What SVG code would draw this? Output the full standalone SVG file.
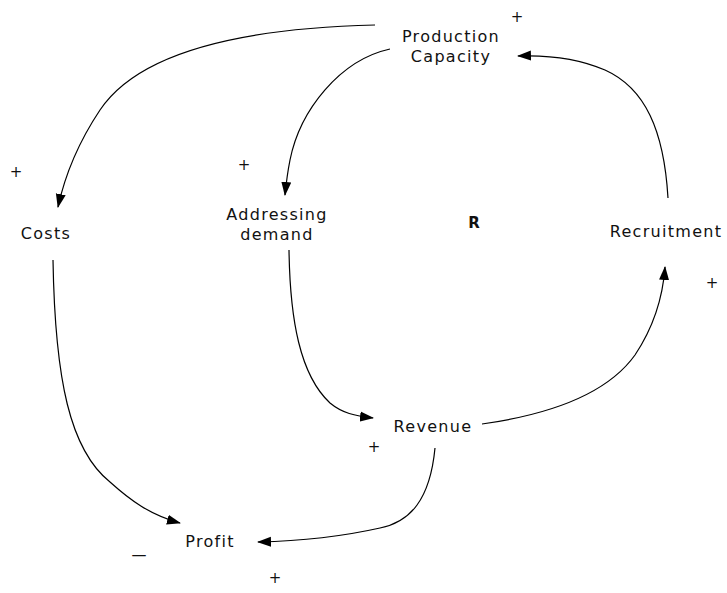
<svg xmlns="http://www.w3.org/2000/svg" width="727" height="593" viewBox="0 0 727 593">
  <style>
    .lbl { font-family: "DejaVu Sans", Verdana, sans-serif; font-size: 16px; letter-spacing: 1.3px; fill: #111; text-anchor: middle; }
    .sign { font-family: "DejaVu Sans", Verdana, sans-serif; font-size: 15px; fill: #111; text-anchor: middle; }
    .link { fill: none; stroke: #000; stroke-width: 1.2; marker-end: url(#head); }
  </style>
  <defs>
    <marker id="head" viewBox="0 0 14 10" refX="13" refY="5" markerWidth="14" markerHeight="11" markerUnits="userSpaceOnUse" orient="auto">
      <path d="M0,0 L14,5 L0,10 Z" fill="#000"/>
    </marker>
  </defs>
  <rect width="727" height="593" fill="#fff"/>

  <g id="connectors">
    <path class="link" d="M375,25 C250,28 140,50 100,110 C80,140 65,175 58,207"/>
    <path class="link" d="M390,49 C340,60 300,110 290,160 C287,175 286,185 285,195"/>
    <path class="link" d="M668,198 C664,130 645,88 605,70 C575,57 545,55 518,56"/>
    <path class="link" d="M482,424 C560,413 610,390 635,355 C655,325 663,295 665,267"/>
    <path class="link" d="M289,250 C290,320 300,375 330,403 C342,413 355,416 373,418"/>
    <path class="link" d="M53,260 C55,380 70,450 110,482 C130,500 150,515 180,523"/>
    <path class="link" d="M435,448 C430,500 410,522 380,528 C340,537 300,541 258,542"/>
  </g>

  <g id="production-capacity">
    <text class="lbl" x="451" y="42">Production</text>
    <text class="lbl" x="451" y="62">Capacity</text>
  </g>
  <g id="costs">
    <text class="lbl" x="46" y="239">Costs</text>
  </g>
  <g id="addressing-demand">
    <text class="lbl" x="277" y="220">Addressing</text>
    <text class="lbl" x="277" y="240">demand</text>
  </g>
  <g id="recruitment">
    <text class="lbl" x="666" y="237">Recruitment</text>
  </g>
  <g id="revenue">
    <text class="lbl" x="433" y="432">Revenue</text>
  </g>
  <g id="profit">
    <text class="lbl" x="210" y="547">Profit</text>
  </g>

  <g id="loop-label">
    <text class="sign" x="474" y="228" font-weight="bold" font-size="16">R</text>
  </g>

  <g id="polarities">
    <text class="sign" x="517" y="22">+</text>
    <text class="sign" x="16" y="177">+</text>
    <text class="sign" x="244" y="170">+</text>
    <text class="sign" x="712" y="288">+</text>
    <text class="sign" x="374" y="452">+</text>
    <text class="sign" x="139" y="560" font-size="12">—</text>
    <text class="sign" x="275" y="583">+</text>
  </g>
</svg>
